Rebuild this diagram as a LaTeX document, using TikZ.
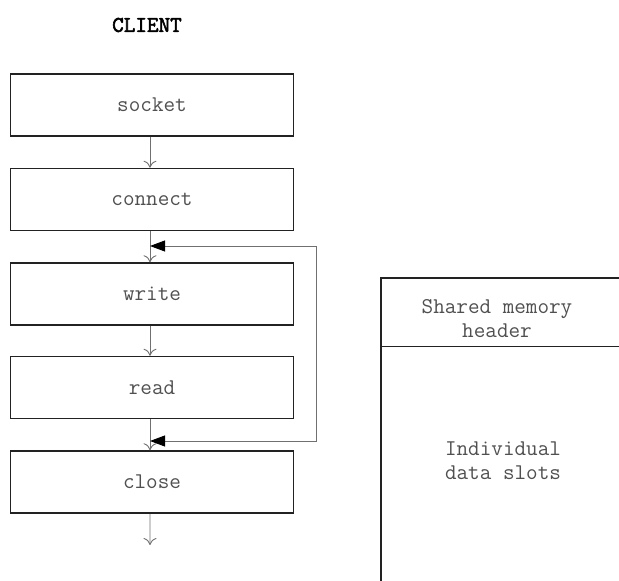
\documentclass[tikz,border=0pt]{standalone}
\usepackage{fontspec}
\newfontfamily\ttbold[FakeBold=2.5]{Latin Modern Mono}
\usetikzlibrary{arrows.meta}
\definecolor{txt}{HTML}{505050}
\definecolor{edge}{HTML}{222222}
\definecolor{wire}{HTML}{707070}
\begin{document}
\begin{tikzpicture}[x=1bp,y=-1bp,
  stepbox/.style={draw=edge,line width=1.5bp,minimum width=283bp,minimum height=62bp,
    font=\ttfamily\fontsize{22.5bp}{24bp}\selectfont,text=txt,inner sep=0pt},
  flow/.style={draw=wire,line width=0.9bp,-{To[length=7bp,width=13bp]}},
  loopline/.style={draw=wire,line width=0.9bp,{Triangle[length=15bp,width=11bp,fill=black,color=black]}-{Triangle[length=15bp,width=11bp,fill=black,color=black]}},
  lbl/.style={font=\ttfamily\fontsize{22.5bp}{24bp}\selectfont,text=txt,align=center,inner sep=0pt}]
\useasboundingbox (0,0) rectangle (619,581);
\clip (0,0) rectangle (619,581);
\node[font=\ttbold\fontsize{22.5bp}{24bp}\selectfont,text=black] (title) at (147,25) {CLIENT};
\node[stepbox] (socket)  at (152,105)   {socket};
\node[stepbox] (connect) at (152,199.5) {connect};
\node[stepbox] (write)   at (152,294)   {write};
\node[stepbox] (read)    at (152,387.5) {read};
\node[stepbox] (close)   at (152,482)   {close};
\coordinate (end) at (150,545);
\draw[flow] ([xshift=-2bp]socket.south) -- ([xshift=-2bp]connect.north);
\draw[flow] ([xshift=-2bp]connect.south) -- ([xshift=-2bp]write.north);
\draw[flow] ([xshift=-2bp]write.south) -- ([xshift=-2bp]read.north);
\draw[flow] ([xshift=-2bp]read.south) -- ([xshift=-2bp]close.north);
\draw[flow] ([xshift=-2bp]close.south) -- (end);
\coordinate (j1) at (150,246);
\coordinate (j2) at (150,441);
\coordinate (c1) at (316,246);
\coordinate (c2) at (316,441);
\draw[loopline] (j2) -- (c2) -- (c1) -- (j1);
% shared memory block
\coordinate (m1) at (381,278);
\coordinate (m2) at (621,346);
\coordinate (m3) at (621,600);
\node[lbl] (hdr) at (497,319) {Shared memory\\header};
\node[lbl] (slots) at (503,461) {Individual\\data slots};
\draw[edge,line width=1.5bp] (m1) rectangle (m3);
\draw[edge,line width=1bp] (m1 |- m2) -- (m2);
\end{tikzpicture}
\end{document}
